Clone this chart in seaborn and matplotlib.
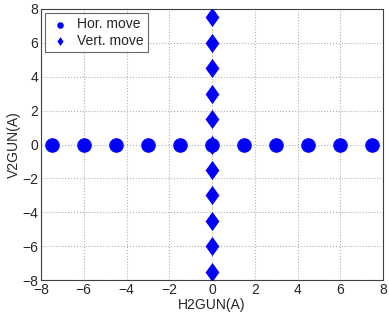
import pandas as pd
import matplotlib
matplotlib.use("Agg")
import matplotlib.pyplot as plt
import seaborn as sns
import numpy as np

# positions
hor_x = [-7.5, -6, -4.5, -3, -1.5, 0, 1.5, 3, 4.5, 6, 7.5]
hor_y = [0] * len(hor_x)
vert_y = [-7.5, -6, -4.5, -3, -1.5, 0, 1.5, 3, 4.5, 6, 7.5]
vert_x = [0] * len(vert_y)

hor = pd.DataFrame({"H2GUN(A)": hor_x, "V2GUN(A)": hor_y})
vert = pd.DataFrame({"H2GUN(A)": vert_x, "V2GUN(A)": vert_y})

sns.set_style("white")
plt.rcParams['font.family'] = ['Liberation Sans', 'DejaVu Sans']

fig = plt.figure(figsize=(3.89, 3.2), dpi=100)
ax = fig.add_axes([41/389, 40/320, 342/389, 271/320])

diamond = [(0, 1), (0.72, 0), (0, -1), (-0.72, 0), (0, 1)]
sns.scatterplot(data=hor, x="H2GUN(A)", y="V2GUN(A)", marker="o", s=110,
                color="#0000ff", edgecolor="#0000ff", linewidth=0, label="Hor. move", ax=ax, zorder=3)
sns.scatterplot(data=vert, x="H2GUN(A)", y="V2GUN(A)", marker=diamond, s=190,
                color="#0000ff", edgecolor="#0000ff", linewidth=0, label="Vert. move", ax=ax, zorder=4)

ax.set_xlim(-8, 8)
ax.set_ylim(-8, 8)
ax.set_xticks(np.arange(-8, 9, 2))
ax.set_yticks(np.arange(-8, 9, 2))
ax.grid(True, linestyle=":", color="#b0b0b0", linewidth=0.8)
for sp in ax.spines.values():
    sp.set_color("#404040")
    sp.set_linewidth(0.8)
ax.tick_params(direction="in", length=3, labelsize=10, color="#404040", pad=2)
ax.set_xlabel("H2GUN(A)", fontsize=10, labelpad=1)
ax.set_ylabel("V2GUN(A)", fontsize=10, labelpad=1)

leg = ax.legend(loc="upper left", fontsize=10, markerscale=0.45, frameon=True, fancybox=False,
                edgecolor="#404040", borderpad=0.3, handletextpad=0.4, labelspacing=0.2,
                borderaxespad=0.3, handlelength=1.6)
leg.get_frame().set_linewidth(0.8)

fig.savefig("out.png", dpi=100)
